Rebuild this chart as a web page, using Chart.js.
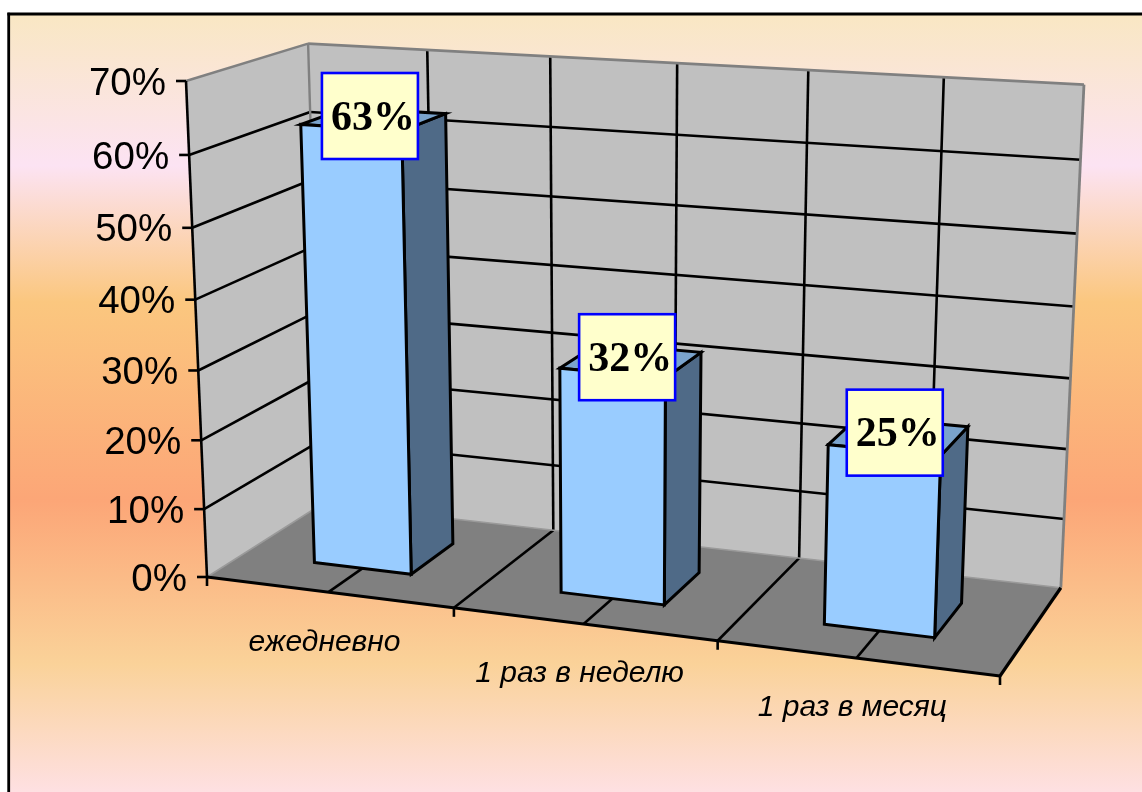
<!DOCTYPE html>
<html>
<head>
<meta charset="utf-8">
<style>html,body{margin:0;padding:0;background:#fff}canvas{display:block}</style>
<script src="https://cdn.jsdelivr.net/npm/chart.js@4/dist/chart.umd.min.js"></script>
</head>
<body>
<div style="width:1142px;height:792px"><canvas id="c" width="1142" height="792"></canvas></div>
<script>
const categories = ['ежедневно', '1 раз в неделю', '1 раз в месяц'];
const shares = [63, 32, 25];
const axisMax = 70;
const axisStep = 10;

/* Box corners of the 3-D scene on the page and reference points used to fit the camera. */
const O = [207, 577], UX = [1000, 676], VY = [186, 81], WZ = [322, 504];
const fitPoints = [
  [0, 1, 1, 309, 43], [0, 1, 1, 309, 43], [0, 1, 1, 309, 43],
  [1, 0, 1, 1061, 585], [1, 0, 1, 1061, 585], [1, 0, 1, 1061, 585],
  [1, 1, 1, 1083, 84], [1, 1, 1, 1083, 84], [1, 1, 1, 1083, 84],
  [1/3, 0, 0, 456, 606], [2/3, 0, 0, 718, 640],
  [1/6, 1, 1, 432, 51], [5/6, 1, 1, 943, 77],
  [1/3, 1, 1, 554, 57], [2/3, 0, 1, 800, 556], [1/3, 0, 1, 555, 528],
  [0, 6/7, 0, 188, 155], [0, 5/7, 0, 192, 228], [0, 1/7, 0, 204, 510]
];
function solveCamera() {
  const M = [[0,0,0],[0,0,0],[0,0,0]], r = [0,0,0];
  for (const [u,v,w,px,py] of fitPoints) {
    [[px,0],[py,1]].forEach(([p,i]) => {
      const row = [u*(p-UX[i]), v*(p-VY[i]), w*(p-WZ[i])];
      const rhs = (UX[i]-O[i])*u + (VY[i]-O[i])*v + (WZ[i]-O[i])*w + O[i] - p;
      for (let a=0;a<3;a++){ r[a]+=row[a]*rhs; for(let b=0;b<3;b++) M[a][b]+=row[a]*row[b]; }
    });
  }
  for (let i=0;i<3;i++){
    for (let j=i+1;j<3;j++){
      const f=M[j][i]/M[i][i];
      for(let k=i;k<3;k++) M[j][k]-=f*M[i][k];
      r[j]-=f*r[i];
    }
  }
  const s=[0,0,0];
  for (let i=2;i>=0;i--){ let t=r[i]; for(let k=i+1;k<3;k++) t-=M[i][k]*s[k]; s[i]=t/M[i][i]; }
  return s;
}
const [ca, cb, cc] = solveCamera();
function P(u, v, w) {
  const d = ca*u + cb*v + cc*w + 1;
  const f = i => ((UX[i]*(ca+1)-O[i])*u + (VY[i]*(cb+1)-O[i])*v + (WZ[i]*(cc+1)-O[i])*w + O[i]) / d;
  return [f(0), f(1)];
}
function poly(ctx, pts, fill, stroke, lw) {
  ctx.beginPath();
  pts.forEach((p, i) => i ? ctx.lineTo(p[0], p[1]) : ctx.moveTo(p[0], p[1]));
  ctx.closePath();
  if (fill) { ctx.fillStyle = fill; ctx.fill(); }
  if (stroke) { ctx.strokeStyle = stroke; ctx.lineWidth = lw; ctx.lineJoin = 'miter'; ctx.stroke(); }
}
function line(ctx, a, b, color, lw) {
  ctx.beginPath(); ctx.moveTo(a[0], a[1]); ctx.lineTo(b[0], b[1]);
  ctx.strokeStyle = color; ctx.lineWidth = lw; ctx.lineCap = 'butt'; ctx.stroke();
}
const BAR_W0 = 0.3, BAR_W1 = 0.7;

const scene = {
  id: 'scene',
  beforeDraw(chart) {
    const ctx = chart.ctx, W = chart.width, H = chart.height;
    ctx.save();
    ctx.fillStyle = '#fff'; ctx.fillRect(0, 0, W, H);
    const g = ctx.createLinearGradient(0, 14, 0, 792);
    g.addColorStop(0, '#F9E7C3');
    g.addColorStop(0.195, '#FCE3F3');
    g.addColorStop(0.37, '#FBC77F');
    g.addColorStop(0.625, '#FCA677');
    g.addColorStop(0.835, '#FAD299');
    g.addColorStop(1, '#FEE0E2');
    ctx.fillStyle = g; ctx.fillRect(9, 14, W - 9, H - 14);
    line(ctx, [8.7, 792], [8.7, 12.8], '#000', 2.8);
    line(ctx, [7.4, 14], [W, 14], '#000', 2.8);

    /* walls and floor */
    poly(ctx, [P(0,0,1), P(1,0,1), P(1,1,1), P(0,1,1)], '#C0C0C0');
    poly(ctx, [P(0,0,0), P(0,0,1), P(0,1,1), P(0,1,0)], '#C0C0C0');
    poly(ctx, [P(0,0,0), P(1,0,0), P(1,0,1), P(0,0,1)], '#808080');

    const y = chart.scales.y, top = chart.chartArea.top, bottom = chart.chartArea.bottom;
    const vOf = val => (bottom - y.getPixelForValue(val)) / (bottom - top);
    const GRID = 2.6;

    /* value gridlines */
    y.ticks.forEach(t => {
      const v = vOf(t.value);
      if (t.value > y.min && t.value < y.max) {
        line(ctx, P(0,v,0), P(0,v,1), '#000', GRID);
        line(ctx, P(0,v,1), P(1,v,1), '#000', GRID);
      }
    });
    /* category gridlines: wall and floor, at edges and centres of categories */
    for (let k = 1; k < categories.length * 2; k++) {
      const u = k / (categories.length * 2);
      line(ctx, P(u,0,1), P(u,1,1), '#000', GRID);
      line(ctx, P(u,0,0), P(u,0,1), '#000', GRID);
    }
    /* wall outlines */
    line(ctx, P(0,1,0), P(0,1,1), '#808080', 2.4);
    line(ctx, P(0,1,1), P(1,1,1), '#808080', 2.8);
    line(ctx, P(1,1,1), P(1,0,1), '#808080', 2.8);
    line(ctx, P(0,1,1), P(0,0,1), '#808080', 2.4);
    line(ctx, P(0,0,1), P(1,0,1), '#9a9a9a', 1.6);
    line(ctx, P(0,0,0), P(0,0,1), '#9a9a9a', 1.6);

    /* axes */
    line(ctx, P(0,0,0), P(0,1,0), '#000', GRID);
    line(ctx, P(0,0,0), P(1,0,0), '#000', 2.8);
    line(ctx, P(1,0,0), P(1,0,1), '#000', 3.2);

    /* value ticks and their labels */
    ctx.font = '38.5px "Liberation Sans", Arial, sans-serif';
    ctx.textAlign = 'right'; ctx.textBaseline = 'middle';
    y.ticks.forEach(t => {
      const p = P(0, vOf(t.value), 0);
      line(ctx, [p[0] - 10, p[1]], p, '#000', GRID);
      ctx.fillStyle = '#000';
      ctx.fillText(t.label, p[0] - 20, p[1] + 3);
    });
    /* category ticks */
    for (let k = 0; k <= categories.length; k++) {
      const p = P(k / categories.length, 0, 0);
      line(ctx, p, [p[0], p[1] + 9], '#000', GRID);
    }
    /* category labels */
    const x = chart.scales.x;
    ctx.font = 'italic 30px "Liberation Sans", Arial, sans-serif';
    ctx.textAlign = 'center'; ctx.textBaseline = 'middle';
    x.ticks.forEach((t, i) => {
      const u = (x.getPixelForTick(i) - x.left) / (x.right - x.left);
      const p = P(u, 0, 0);
      ctx.fillStyle = '#000';
      ctx.fillText(x.getLabelForValue(t.value), p[0] - 4, p[1] + 50);
    });
    ctx.restore();
  },
  beforeDatasetDraw(chart, args) {
    const ctx = chart.ctx, x = chart.scales.x;
    const area = chart.chartArea;
    const uOf = px => (px - x.left) / (x.right - x.left);
    const vOf = px => (area.bottom - px) / (area.bottom - area.top);
    ctx.save();
    args.meta.data.forEach(bar => {
      const u0 = uOf(bar.x - bar.width / 2), u1 = uOf(bar.x + bar.width / 2);
      const v0 = vOf(bar.base), v1 = vOf(bar.y);
      const lw = 3;
      poly(ctx, [P(u1,v0,BAR_W0), P(u1,v0,BAR_W1), P(u1,v1,BAR_W1), P(u1,v1,BAR_W0)], '#4F6A87', '#000', lw);
      poly(ctx, [P(u0,v1,BAR_W0), P(u1,v1,BAR_W0), P(u1,v1,BAR_W1), P(u0,v1,BAR_W1)], '#7AA3CC', '#000', lw);
      poly(ctx, [P(u0,v0,BAR_W0), P(u1,v0,BAR_W0), P(u1,v1,BAR_W0), P(u0,v1,BAR_W0)], '#99CCFF', '#000', lw);
    });
    ctx.restore();
    return false;
  },
  afterDatasetsDraw(chart) {
    const ctx = chart.ctx, x = chart.scales.x;
    const area = chart.chartArea;
    const meta = chart.getDatasetMeta(0);
    ctx.save();
    meta.data.forEach((bar, i) => {
      const c = P((bar.x - x.left) / (x.right - x.left),
                  (area.bottom - bar.y) / (area.bottom - area.top),
                  (BAR_W0 + BAR_W1) / 2);
      const bw = 96, bh = 86, cx = c[0] - 4, cy = c[1] - 3;
      ctx.fillStyle = '#FFFFCC';
      ctx.fillRect(cx - bw / 2, cy - bh / 2, bw, bh);
      ctx.strokeStyle = '#0000FF'; ctx.lineWidth = 2.6;
      ctx.strokeRect(cx - bw / 2, cy - bh / 2, bw, bh);
      ctx.fillStyle = '#000';
      ctx.font = 'bold 42px "Liberation Serif", "Times New Roman", serif';
      ctx.textAlign = 'center'; ctx.textBaseline = 'middle';
      ctx.fillText(shares[i] + '%', cx + 3, cy + 3);
    });
    ctx.restore();
  }
};

new Chart(document.getElementById('c'), {
  type: 'bar',
  data: {
    labels: categories,
    datasets: [{ data: shares, backgroundColor: '#99CCFF', borderColor: '#000', barPercentage: 0.4, categoryPercentage: 1 }]
  },
  options: {
    responsive: false,
    animation: false,
    layout: { padding: 0 },
    plugins: { legend: { display: false }, title: { display: false }, tooltip: { enabled: false } },
    scales: {
      x: { display: false },
      y: { display: false, min: 0, max: axisMax, ticks: { stepSize: axisStep, callback: v => v + '%' } }
    }
  },
  plugins: [scene]
});
</script>
</body>
</html>
